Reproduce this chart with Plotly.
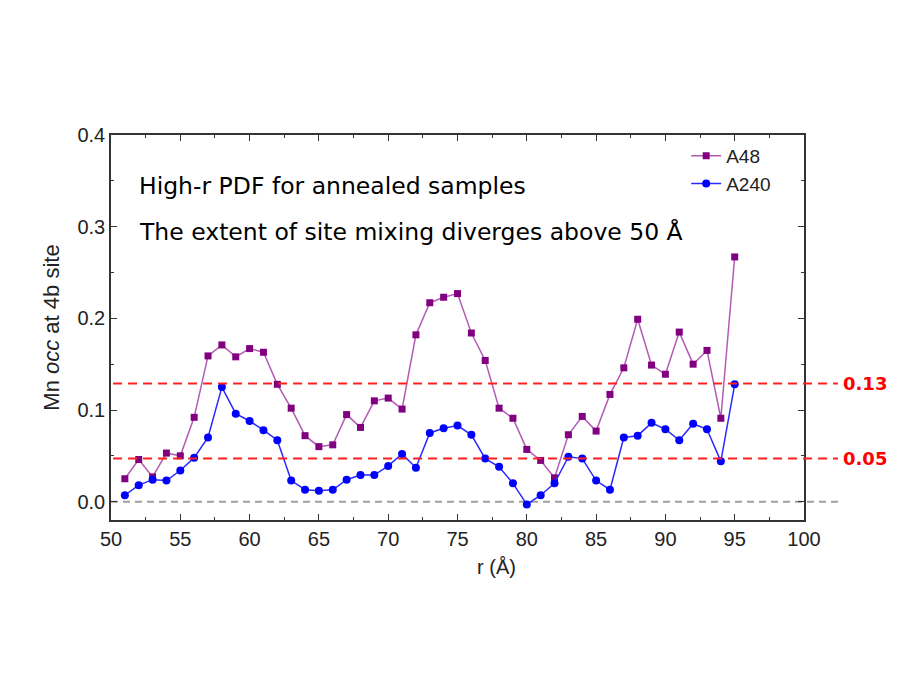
import plotly.graph_objects as go

r = list(range(51, 96))
a48 = [0.025, 0.046, 0.027, 0.053, 0.050, 0.092, 0.159, 0.171, 0.158, 0.167,
       0.163, 0.128, 0.102, 0.072, 0.060, 0.062, 0.095, 0.081, 0.110, 0.113,
       0.101, 0.182, 0.217, 0.223, 0.227, 0.184, 0.154, 0.102, 0.091, 0.057,
       0.045, 0.026, 0.073, 0.093, 0.077, 0.117, 0.146, 0.199, 0.149, 0.139,
       0.185, 0.150, 0.165, 0.091, 0.267]
a240 = [0.007, 0.018, 0.024, 0.023, 0.034, 0.048, 0.070, 0.125, 0.096, 0.088,
        0.078, 0.067, 0.023, 0.013, 0.012, 0.013, 0.024, 0.029, 0.029, 0.039,
        0.052, 0.037, 0.075, 0.080, 0.083, 0.073, 0.047, 0.038, 0.020, -0.003,
        0.007, 0.020, 0.049, 0.047, 0.023, 0.013, 0.070, 0.072, 0.086, 0.079,
        0.067, 0.085, 0.079, 0.044, 0.128]
ref_levels = [0.129, 0.047]
ref_labels = ["0.13", "0.05"]
notes = ["High-r PDF for annealed samples",
         "The extent of site mixing diverges above 50 Å"]
x_title = "r (Å)"
y_title = "Mn <i>occ</i> at 4b site"

fig = go.Figure()
fig.add_trace(go.Scatter(x=r, y=a48, name="A48", mode="lines+markers",
                         line=dict(color="#b45cb4", width=1.5),
                         marker=dict(symbol="square", size=7, color="#800080")))
fig.add_trace(go.Scatter(x=r, y=a240, name="A240", mode="lines+markers",
                         line=dict(color="#2a2aff", width=1.5),
                         marker=dict(symbol="circle", size=8, color="#0000ff")))

shapes = [dict(type="line", xref="paper", yref="y", x0=0, x1=1.052, y0=0, y1=0,
               line=dict(color="#a0a0a0", width=2, dash="7px,5px"), layer="below")]
annos = []
for lv, lb in zip(ref_levels, ref_labels):
    shapes.append(dict(type="line", xref="paper", yref="y", x0=0.003, x1=1.049,
                       y0=lv, y1=lv, line=dict(color="#ff2020", width=2, dash="9px,6px")))
    annos.append(dict(xref="paper", yref="y", x=1.054, y=lv, text="<b>" + lb + "</b>",
                      showarrow=False, xanchor="left", yanchor="middle",
                      font=dict(color="#ff0000", size=18, family="DejaVu Sans")))
for i, t in enumerate(notes):
    annos.append(dict(xref="paper", yref="paper", x=0.038, y=[0.868, 0.748][i], text=t,
                      showarrow=False, xanchor="left", yanchor="middle",
                      font=dict(color="black", size=23.5, family="DejaVu Sans")))
annos.append(dict(xref="paper", yref="paper", x=0.556, y=-0.122, text=x_title,
                  showarrow=False, xanchor="center", yanchor="middle",
                  font=dict(size=20, family="Liberation Sans", color="#222")))

axis_common = dict(showline=True, linecolor="#333", linewidth=1.5, mirror="ticks",
                   ticks="inside", ticklen=6, tickcolor="#333", showgrid=False,
                   zeroline=False, tickfont=dict(size=20, family="Liberation Sans", color="#222"))

fig.update_layout(
    width=896, height=670,
    margin=dict(l=103, r=100, t=127, b=158),
    plot_bgcolor="white", paper_bgcolor="white",
    showlegend=True,
    legend=dict(x=0.83, y=0.995, xanchor="left", yanchor="top",
                font=dict(size=19, family="Liberation Sans", color="#222"),
                bgcolor="rgba(0,0,0,0)", tracegroupgap=0),
    shapes=shapes, annotations=annos,
    xaxis=dict(range=[50, 100], dtick=5, tick0=50,
               minor=dict(dtick=2.5, ticks="inside", ticklen=3, tickcolor="#333"),
               **axis_common),
    yaxis=dict(range=[-0.02, 0.4], dtick=0.1, tick0=0, tickformat=".1f",
               minor=dict(dtick=0.05, ticks="inside", ticklen=3, tickcolor="#333"),
               title=dict(text=y_title,
                          font=dict(size=22, family="Liberation Sans", color="#222"),
                          standoff=12),
               **axis_common),
)

fig.write_html("out.html")
